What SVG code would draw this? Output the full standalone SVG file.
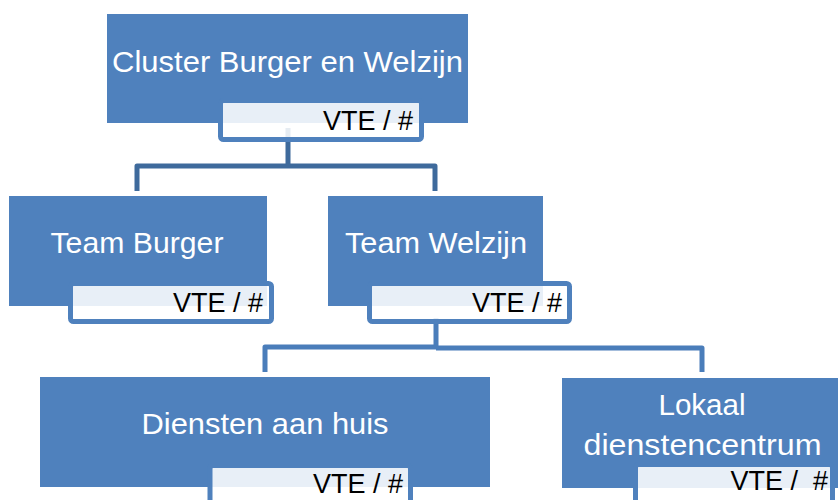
<svg xmlns="http://www.w3.org/2000/svg" width="838" height="500" viewBox="0 0 838 500">
  <style>
    .box { fill: #4F81BD; }
    .title { font-family: "Liberation Sans", Arial, sans-serif; font-size: 30px; fill: #FFFFFF; text-anchor: middle; }
    .tag { fill: #FFFFFF; fill-opacity: 0.87; stroke: #4F81BD; stroke-width: 5; }
    .tagtext { font-family: "Liberation Sans", Arial, sans-serif; font-size: 27px; fill: #000000; text-anchor: end; white-space: pre; }
    .link-top { fill: none; stroke: #3E6A9C; stroke-width: 5; stroke-linejoin: round; }
    .link-low { fill: none; stroke: #4A7DBA; stroke-width: 5; stroke-linejoin: round; }
  </style>
  <rect width="838" height="500" fill="#FFFFFF"/>

  <!-- connectors, drawn behind the nodes -->
  <g id="connectors">
    <path class="link-top" d="M288 128 V166 H137 V191 M288 166 H435 V191"/>
    <path class="link-low" d="M436 318 V347 H265 V372 M436 348 H702 V372"/>
  </g>

  <g id="cluster">
    <rect class="box" x="107" y="14" width="361" height="109"/>
    <text class="title" x="287.5" y="72" font-size="31" textLength="351" lengthAdjust="spacingAndGlyphs">Cluster Burger en Welzijn</text>
    <rect class="tag" x="220.5" y="100.5" width="201" height="39" rx="3"/>
    <text class="tagtext" x="413" y="130">VTE / #</text>
  </g>

  <g id="team-burger">
    <rect class="box" x="9" y="196" width="258" height="110"/>
    <text class="title" x="137" y="253" textLength="173" lengthAdjust="spacingAndGlyphs">Team Burger</text>
    <rect class="tag" x="70.5" y="283.5" width="201" height="38" rx="3"/>
    <text class="tagtext" x="263" y="312">VTE / #</text>
  </g>

  <g id="team-welzijn">
    <rect class="box" x="328" y="196" width="215" height="110"/>
    <text class="title" x="436" y="253" textLength="182" lengthAdjust="spacingAndGlyphs">Team Welzijn</text>
    <rect class="tag" x="369.5" y="283.5" width="200" height="38" rx="3"/>
    <text class="tagtext" x="562" y="312">VTE / #</text>
  </g>

  <g id="diensten-aan-huis">
    <rect class="box" x="40" y="377" width="450" height="110"/>
    <text class="title" x="265" y="434" textLength="247" lengthAdjust="spacingAndGlyphs">Diensten aan huis</text>
    <rect class="tag" x="210" y="465.5" width="200.5" height="40" rx="3"/>
    <text class="tagtext" x="403" y="493">VTE / #</text>
  </g>

  <g id="lokaal-dienstencentrum">
    <rect class="box" x="562" y="378" width="281" height="110"/>
    <text class="title" x="702" y="415" textLength="87" lengthAdjust="spacingAndGlyphs">Lokaal</text>
    <text class="title" x="702.5" y="455" textLength="238" lengthAdjust="spacingAndGlyphs">dienstencentrum</text>
    <rect class="tag" x="635.5" y="464.5" width="197" height="40" rx="3"/>
    <text class="tagtext" x="828" y="490" xml:space="preserve">VTE /  #</text>
  </g>
</svg>
